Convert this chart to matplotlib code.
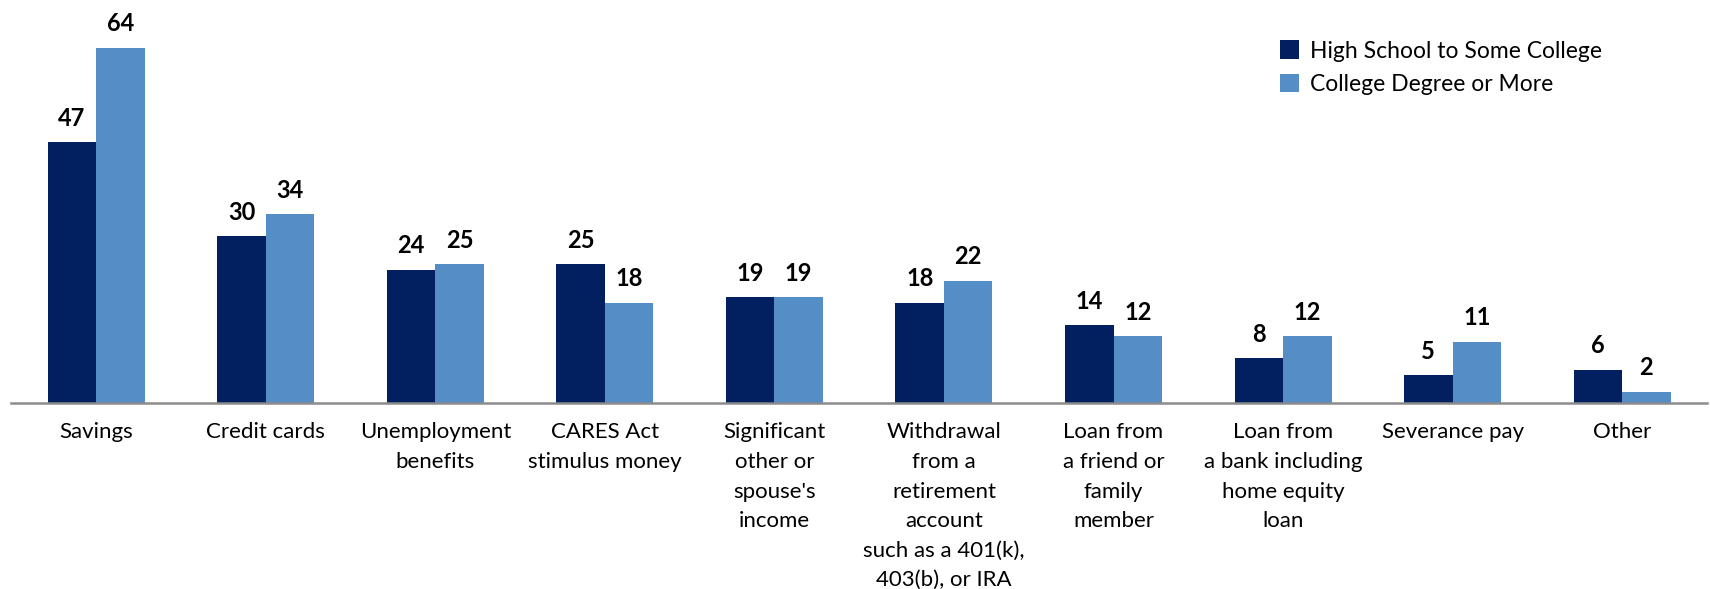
import numpy as np
import matplotlib.pyplot as plt

# ---------- data ----------
categories = [
    "Savings",
    "Credit cards",
    "Unemployment\nbenefits",
    "CARES Act\nstimulus money",
    "Significant\nother or\nspouse's\nincome",
    "Withdrawal\nfrom a\nretirement\naccount\nsuch as a 401(k),\n403(b), or IRA",
    "Loan from\na friend or\nfamily\nmember",
    "Loan from\na bank including\nhome equity\nloan",
    "Severance pay",
    "Other",
]
hs_some_college = [47, 30, 24, 25, 19, 18, 14, 8, 5, 6]
college_plus    = [64, 34, 25, 18, 19, 22, 12, 12, 11, 2]
series_names = ["High School to Some College", "College Degree or More"]
# ---------------------------

DARK = "#02205F"
LIGHT = "#558EC7"
FONT = "Lato"

fig = plt.figure(figsize=(17.1, 5.89), dpi=100)
ax = fig.add_axes([0.0067, 0.316, 0.9915, 0.667])

x = np.arange(len(categories))
w = 0.286

b1 = ax.bar(x - w / 2, hs_some_college, w, color=DARK, label=series_names[0])
b2 = ax.bar(x + w / 2, college_plus, w, color=LIGHT, label=series_names[1])

for bars, vals in ((b1, hs_some_college), (b2, college_plus)):
    for b, v in zip(bars, vals):
        ax.annotate(str(v), (b.get_x() + b.get_width() / 2, v),
                    xytext=(0, 9), textcoords="offset points",
                    ha="center", va="bottom", fontsize=17,
                    fontweight="bold", family=FONT)

ax.set_xlim(-0.5, len(categories) - 0.5)
ax.set_ylim(0, 70.8)
ax.set_xticks(x)
ax.set_xticklabels(categories, family=FONT, fontsize=16, linespacing=1.6,
                   va="top", ha="center")
ax.tick_params(axis="x", length=0, pad=14)
ax.set_yticks([])

for s in ("top", "right", "left"):
    ax.spines[s].set_visible(False)
ax.spines["bottom"].set_color("#8C8C8C")
ax.spines["bottom"].set_linewidth(1.8)

leg = ax.legend(loc="upper left", bbox_to_anchor=(0.736, 0.975), frameon=False,
                prop={"family": FONT, "size": 16.5}, handlelength=0.85,
                handleheight=0.85, handletextpad=0.45, labelspacing=0.55)

fig.savefig("out.png", dpi=100)
